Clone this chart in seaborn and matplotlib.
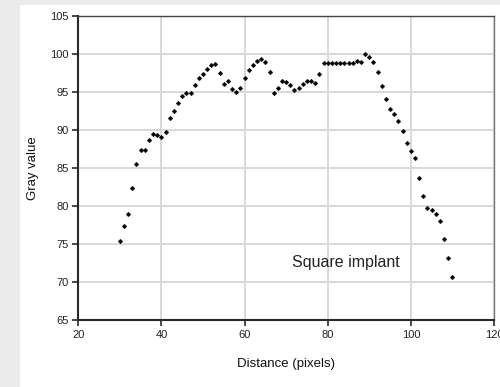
import numpy as np
import pandas as pd
import matplotlib
matplotlib.use("Agg")
import matplotlib.pyplot as plt
import seaborn as sns
from matplotlib.patches import Rectangle

# profile across the implant, one sample per pixel
distance = list(range(30, 111))
gray_value = [
    75.4, 77.3, 78.9, 82.3, 85.5, 87.3, 87.4, 88.7, 89.4, 89.3,
    89.0, 89.7, 91.6, 92.5, 93.5, 94.4, 94.9, 94.8, 95.9, 96.8,
    97.4, 97.95, 98.5, 98.7, 97.5, 96.0, 96.4, 95.4, 95.0, 95.5,
    96.8, 97.8, 98.5, 99.1, 99.3, 98.85, 97.6, 94.9, 95.5, 96.4,
    96.3, 95.9, 95.2, 95.5, 96.0, 96.45, 96.4, 96.15, 97.4, 98.8,
    98.8, 98.8, 98.8, 98.8, 98.8, 98.8, 98.8, 99.05, 98.9, 100.0,
    99.6, 98.9, 97.6, 95.8, 94.0, 92.7, 92.1, 91.2, 89.8, 88.3,
    87.2, 86.3, 83.7, 81.3, 79.7, 79.5, 78.9, 78.0, 75.7, 73.1,
    70.6,
]

x_ticks = [20, 40, 60, 80, 100, 120]
y_ticks = [65, 70, 75, 80, 85, 90, 95, 100, 105]

df = pd.DataFrame({"distance": distance, "gray": gray_value})

sns.set_style("white")
plt.rcParams["font.family"] = ["Liberation Sans", "DejaVu Sans"]

fig = plt.figure(figsize=(5.0, 3.87), dpi=100, facecolor="#ebebeb")
# white sheet behind the chart, gray strip on the left and top
fig.patches.append(Rectangle((20 / 500, 0), 1, 1 - 5 / 387, transform=fig.transFigure,
                             facecolor="white", edgecolor="none", zorder=-10))

ax = fig.add_axes([0.1566, 0.1731, 0.8314, 0.7863])
ax.set_facecolor("white")

sns.scatterplot(data=df, x="distance", y="gray", marker="D", s=6, color="black",
                edgecolor="black", linewidth=0.2, ax=ax, zorder=3)

ax.set_xlim(20, 120)
ax.set_ylim(65, 105)
ax.set_xticks(x_ticks)
ax.set_yticks(y_ticks)
ax.grid(True, color="#d8d8d8", linewidth=1.4)
ax.set_axisbelow(True)

for side in ["left", "bottom"]:
    ax.spines[side].set_color("#2a2a2a")
    ax.spines[side].set_linewidth(1.5)
ax.spines["top"].set_color("#444444")
ax.spines["top"].set_linewidth(1.0)
ax.spines["right"].set_color("#777777")
ax.spines["right"].set_linewidth(1.0)

ax.tick_params(axis="both", which="major", direction="out", length=4, width=1.2,
               color="#2a2a2a", labelsize=8, labelcolor="#222222", pad=3,
               left=True, bottom=True)

ax.set_xlabel("Distance (pixels)", fontsize=9.5, color="#111111", labelpad=13)
ax.set_ylabel("Gray value", fontsize=9.5, color="#111111", labelpad=8)

ax.text(71.3, 72.6, "Square implant", fontsize=11.5, color="#222222", va="center", ha="left")

fig.savefig("out.png", dpi=100, facecolor=fig.get_facecolor())
